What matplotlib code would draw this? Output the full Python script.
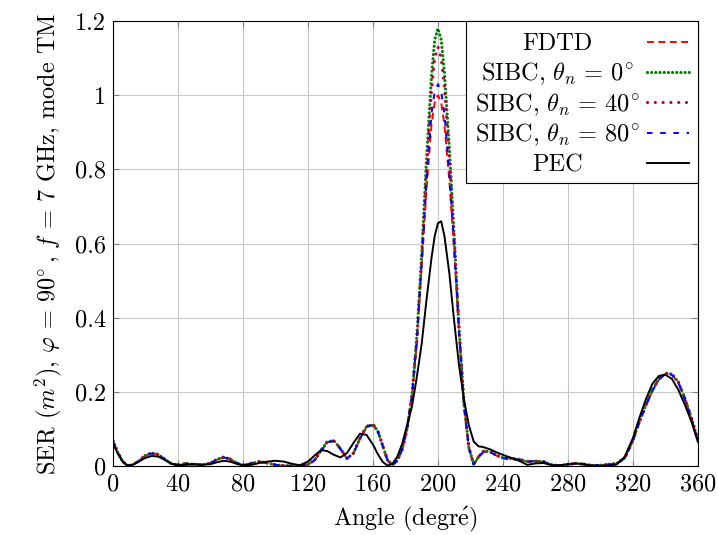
import matplotlib
matplotlib.use("Agg")
import matplotlib.pyplot as plt
from matplotlib.patches import Rectangle
from matplotlib.lines import Line2D
from matplotlib.ticker import FuncFormatter

plt.rcParams['font.family'] = ['cmr10', 'DejaVu Serif']
plt.rcParams['mathtext.fontset'] = 'cm'
plt.rcParams['axes.formatter.use_mathtext'] = True
plt.rcParams['lines.scale_dashes'] = False
plt.rcParams['font.size'] = 17.5

# Angles (degrés)
angles = [0, 3, 6, 9, 12, 16, 20, 24, 28, 32, 36, 40, 45, 50, 55, 60, 64, 68, 72, 76,
          80, 85, 90, 95, 100, 105, 110, 115, 120, 124, 128, 132, 136, 140, 144,
          148, 152, 156, 160, 163, 166, 169, 172, 175, 178, 181, 184, 187, 190, 193,
          196, 198, 200, 202, 204, 207, 210, 213, 216, 219, 222, 225, 228, 232, 236,
          240, 245, 250, 255, 260, 265, 270, 275, 280, 285, 290, 295, 300, 305, 310,
          315, 320, 324, 328, 332, 336, 340, 344, 348, 352, 356, 360]

fdtd = [0.066, 0.035, 0.012, 0.001, 0.003, 0.013, 0.028, 0.034, 0.030, 0.018,
        0.006, 0.003, 0.006, 0.004, 0.002, 0.008, 0.017, 0.023, 0.019, 0.008,
        0.002, 0.007, 0.011, 0.008, 0.003, 0.001, 0.000, 0.000, 0.004, 0.015,
        0.040, 0.064, 0.067, 0.046, 0.020, 0.034, 0.073, 0.104, 0.110, 0.092,
        0.054, 0.015, 0.003, 0.014, 0.044, 0.10, 0.185, 0.33, 0.54, 0.75,
        0.92, 0.98, 1.00, 0.98, 0.92, 0.77, 0.58, 0.36, 0.165, 0.05,
        0.004, 0.024, 0.038, 0.038, 0.028, 0.021, 0.019, 0.017, 0.012, 0.013,
        0.011, 0.003, 0.001, 0.004, 0.007, 0.005, 0.001, 0.002, 0.004, 0.006,
        0.021, 0.068, 0.118, 0.163, 0.203, 0.233, 0.248, 0.246, 0.225, 0.180,
        0.128, 0.068]

sibc_0 = [0.068, 0.036, 0.012, 0.001, 0.003, 0.014, 0.029, 0.035, 0.031, 0.018,
          0.006, 0.003, 0.007, 0.004, 0.002, 0.008, 0.018, 0.024, 0.019, 0.008,
          0.002, 0.007, 0.012, 0.008, 0.003, 0.001, 0.000, 0.000, 0.004, 0.016,
          0.042, 0.066, 0.068, 0.047, 0.020, 0.035, 0.075, 0.106, 0.112, 0.094,
          0.055, 0.015, 0.003, 0.015, 0.045, 0.10, 0.19, 0.35, 0.57, 0.83,
          1.05, 1.15, 1.18, 1.15, 1.06, 0.86, 0.62, 0.37, 0.17, 0.05,
          0.004, 0.025, 0.040, 0.039, 0.029, 0.022, 0.020, 0.018, 0.012, 0.013,
          0.012, 0.003, 0.001, 0.004, 0.007, 0.005, 0.001, 0.002, 0.004, 0.007,
          0.022, 0.070, 0.120, 0.165, 0.205, 0.235, 0.250, 0.248, 0.226, 0.182,
          0.130, 0.070]

sibc_40 = [0.067, 0.036, 0.012, 0.001, 0.003, 0.014, 0.029, 0.035, 0.031, 0.018,
           0.006, 0.003, 0.007, 0.004, 0.002, 0.008, 0.018, 0.023, 0.019, 0.008,
           0.002, 0.007, 0.012, 0.008, 0.003, 0.001, 0.000, 0.000, 0.004, 0.016,
           0.041, 0.066, 0.068, 0.047, 0.020, 0.035, 0.075, 0.107, 0.113, 0.095,
           0.055, 0.015, 0.003, 0.015, 0.045, 0.10, 0.19, 0.34, 0.56, 0.80,
           1.01, 1.10, 1.13, 1.10, 1.02, 0.83, 0.61, 0.37, 0.17, 0.05,
           0.004, 0.025, 0.040, 0.039, 0.029, 0.022, 0.020, 0.018, 0.012, 0.013,
           0.012, 0.003, 0.001, 0.004, 0.007, 0.005, 0.001, 0.002, 0.004, 0.007,
           0.022, 0.070, 0.120, 0.165, 0.205, 0.235, 0.250, 0.248, 0.226, 0.182,
           0.130, 0.070]

sibc_80 = [0.066, 0.035, 0.012, 0.001, 0.003, 0.013, 0.028, 0.034, 0.030, 0.018,
           0.006, 0.003, 0.006, 0.004, 0.002, 0.008, 0.017, 0.023, 0.019, 0.008,
           0.002, 0.007, 0.011, 0.008, 0.003, 0.001, 0.000, 0.000, 0.004, 0.015,
           0.040, 0.065, 0.067, 0.046, 0.020, 0.034, 0.074, 0.105, 0.111, 0.093,
           0.054, 0.015, 0.003, 0.014, 0.044, 0.10, 0.19, 0.34, 0.55, 0.77,
           0.95, 1.01, 1.03, 1.01, 0.95, 0.79, 0.59, 0.36, 0.165, 0.05,
           0.004, 0.024, 0.038, 0.038, 0.028, 0.021, 0.019, 0.017, 0.012, 0.013,
           0.011, 0.003, 0.001, 0.004, 0.007, 0.005, 0.001, 0.002, 0.004, 0.006,
           0.021, 0.068, 0.118, 0.163, 0.203, 0.233, 0.248, 0.246, 0.225, 0.180,
           0.128, 0.068]

pec = [0.061, 0.033, 0.011, 0.001, 0.003, 0.012, 0.022, 0.027, 0.025, 0.016,
       0.006, 0.002, 0.003, 0.005, 0.004, 0.005, 0.010, 0.014, 0.012, 0.006,
       0.002, 0.003, 0.008, 0.012, 0.014, 0.012, 0.006, 0.002, 0.012, 0.028,
       0.043, 0.040, 0.030, 0.023, 0.035, 0.062, 0.087, 0.084, 0.058, 0.032,
       0.011, 0.001, 0.006, 0.025, 0.060, 0.11, 0.16, 0.24, 0.33, 0.45,
       0.56, 0.62, 0.655, 0.66, 0.62, 0.52, 0.39, 0.27, 0.18, 0.11,
       0.066, 0.053, 0.051, 0.045, 0.037, 0.030, 0.022, 0.014, 0.003, 0.007,
       0.008, 0.002, 0.002, 0.005, 0.007, 0.004, 0.001, 0.001, 0.001, 0.004,
       0.025, 0.075, 0.130, 0.180, 0.222, 0.243, 0.246, 0.235, 0.205, 0.165,
       0.120, 0.065]

labels = ['FDTD', r'SIBC, $\theta_n\,=\,0^{\!\circ}$', r'SIBC, $\theta_n\,=\,40^{\!\circ}$',
          r'SIBC, $\theta_n\,=\,80^{\!\circ}$', 'PEC']

styles = [
    dict(color='#ff0000', lw=1.4, dashes=(5, 3.2)),
    dict(color='#008000', lw=2.3, dashes=(0.01, 3.0), dash_capstyle='round'),
    dict(color='#bf0040', lw=2.3, dashes=(0.01, 5.6), dash_capstyle='round'),
    dict(color='#0000ff', lw=1.4, dashes=(4, 5.5)),
    dict(color='black', lw=1.4),
]

fig = plt.figure(figsize=(7.18, 5.35), dpi=100)
ax = fig.add_axes([0.1574, 0.129, 0.8146, 0.8316])

for serie, st in zip([fdtd, sibc_0, sibc_40, sibc_80, pec], styles):
    ax.plot(angles, serie, **st)

ax.set_xlim(0, 360)
ax.set_ylim(0, 1.2)
ax.set_xticks(range(0, 361, 40))
ax.set_yticks([0, 0.2, 0.4, 0.6, 0.8, 1.0, 1.2])
ax.yaxis.set_major_formatter(FuncFormatter(lambda v, p: '%g' % round(v, 2)))
ax.grid(True, color='#c8c8c8', lw=0.8)
ax.set_axisbelow(True)
ax.tick_params(direction='in', top=True, right=True, length=4, width=0.8,
               color='#808080', pad=5)
for s in ax.spines.values():
    s.set_linewidth(0.8)

ax.set_xlabel(r'Angle (degr$\acute{\mathrm{e}}$)', labelpad=7)
ax.set_ylabel(r'SER $(m^2)$, $\varphi\,=\,90^{\!\circ}$, $f\,=\,7$ GHz, mode TM',
              labelpad=8)

# Légende (style pgfplots : texte centré, tracé à droite)
ax.add_patch(Rectangle((0.603, 0.637), 0.397, 0.363, transform=ax.transAxes,
                       facecolor='white', edgecolor='black', lw=0.8, zorder=5,
                       clip_on=False))
rows = [0.953, 0.885, 0.817, 0.749, 0.681]
for lab, st, yr in zip(labels, styles, rows):
    ax.text(0.760, yr - 0.019, lab, transform=ax.transAxes, ha='center',
            va='baseline', zorder=6)
    ax.add_line(Line2D([0.913, 0.985], [yr, yr], transform=ax.transAxes,
                       zorder=6, clip_on=False, **st))

fig.savefig('out.png', dpi=100)
